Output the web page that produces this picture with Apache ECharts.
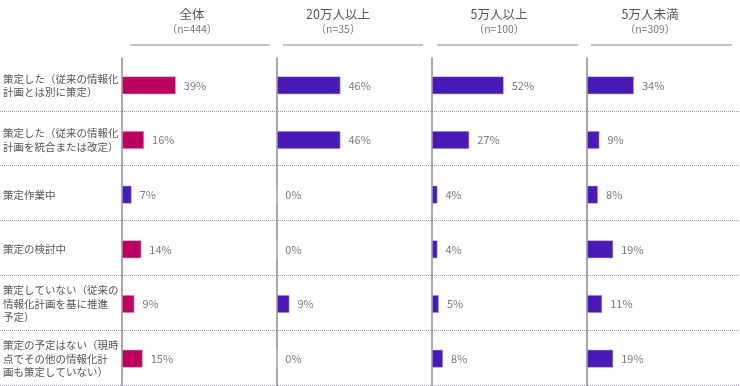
<!DOCTYPE html>
<html><head><meta charset="utf-8">
<script src="https://cdn.jsdelivr.net/npm/echarts@6/dist/echarts.min.js"></script>
<style>html,body{margin:0;padding:0;background:#fff}#c{width:740px;height:386px}</style>
</head><body><div id="c"></div>
<script>
const categories = [
  "策定した（従来の情報化\n計画とは別に策定）",
  "策定した（従来の情報化\n計画を統合または改定）",
  "策定作業中",
  "策定の検討中",
  "策定していない（従来の\n情報化計画を基に推進\n予定）",
  "策定の予定はない（現時\n点でその他の情報化計\n画も策定していない）"
];
const groups = ["全体", "20万人以上", "5万人以上", "5万人未満"];
const groupN = ["（n=444）", "（n=35）", "（n=100）", "（n=309）"];
const valAll = [39, 16, 7, 14, 9, 15];
const val20man = [46, 46, 0, 0, 9, 0];
const val5manOver = [52, 27, 4, 4, 5, 8];
const val5manUnder = [34, 9, 8, 19, 11, 19];
const seriesValues = [valAll, val20man, val5manOver, val5manUnder];
// per-bar colour: the reference draws 全体/策定作業中 in purple
const colorAll = ["m", "m", "p", "m", "m", "m"];

const MAGENTA = "#BC0060", PURPLE = "#4A1AB8";
const font = "'Noto Sans CJK JP', 'Noto Sans', sans-serif";
const gridLefts = [122, 277, 432, 587];
const titleCenters = [187, 333, 494, 645];
const headerLines = [[130, 270], [283, 423], [437, 578], [591, 732]];
const TOP = 56, H = 329;

const grids = [{left: 0, width: 740, top: TOP, height: H}];
const xAxes = [{gridIndex: 0, type: 'value', min: 0, max: 1, show: false}];
const yAxes = [{
  gridIndex: 0, type: 'category', data: categories, inverse: true,
  axisLine: {show: false}, axisTick: {show: false}, axisLabel: {show: false},
  splitLine: {show: true, showMinLine: false, showMaxLine: true,
    lineStyle: {type: [1, 1], color: '#9a9aa6', width: 1}}
}];
const series = [];
const titles = [];
const graphics = [];

groups.forEach((g, i) => {
  const gi = i + 1;
  grids.push({left: gridLefts[i], width: 138, top: TOP + 2, height: H - 1});
  xAxes.push({gridIndex: gi, type: 'value', min: 0, max: 100, show: false});
  yAxes.push({
    gridIndex: gi, type: 'category', data: categories, inverse: true,
    axisLine: {show: true, lineStyle: {color: '#8a8898', width: 1.5}},
    axisTick: {show: false},
    axisLabel: i === 0 ? {
      show: true, align: 'left', margin: 119, color: '#555',
      fontFamily: font, fontSize: 10.5, lineHeight: 13.5
    } : {show: false},
    splitLine: {show: false}
  });
  series.push({
    type: 'bar', xAxisIndex: gi, yAxisIndex: gi,
    barWidth: 18,
    data: seriesValues[i].map((v, k) => ({
      value: v,
      itemStyle: {color: (i === 0 && colorAll[k] === 'm') ? MAGENTA : PURPLE}
    })),
    itemStyle: {borderColor: 'rgba(200,200,210,0.9)', borderWidth: 0.6},
    label: {show: true, position: 'right', distance: 8, formatter: '{c}%',
      color: '#7a7a7a', fontFamily: font, fontSize: 11},
    silent: true, animation: false
  });
  titles.push({
    text: g, subtext: groupN[i], left: titleCenters[i], top: 3, textAlign: 'center',
    itemGap: 3,
    textStyle: {fontFamily: font, fontSize: 12.5, fontWeight: 'normal', color: '#555'},
    subtextStyle: {fontFamily: font, fontSize: 10.5, color: '#777'}
  });
  graphics.push({
    type: 'line', shape: {x1: headerLines[i][0], y1: 45, x2: headerLines[i][1], y2: 45},
    style: {stroke: '#8a8898', lineWidth: 1.2}
  });
});

const chart = echarts.init(document.getElementById('c'));
chart.setOption({
  animation: false,
  title: titles,
  grid: grids, xAxis: xAxes, yAxis: yAxes, series: series,
  graphic: graphics
});
</script>
</body></html>
